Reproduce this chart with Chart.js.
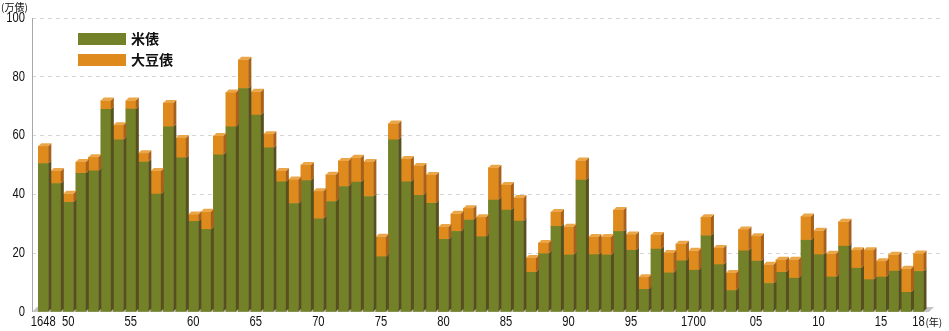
<!DOCTYPE html>
<html>
<head>
<meta charset="utf-8">
<script src="https://cdn.jsdelivr.net/npm/chart.js@4/dist/chart.umd.min.js"></script>
<style>
  html, body { margin: 0; padding: 0; background: #ffffff; }
  #wrap { position: relative; width: 949px; height: 331px; }
</style>
</head>
<body>
<div id="wrap"><canvas id="c" width="949" height="331"></canvas></div>
<script>
// ---- data ----
const years = [1648,1649,1650,1651,1652,1653,1654,1655,1656,1657,
               1658,1659,1660,1661,1662,1663,1664,1665,1666,1667,
               1668,1669,1670,1671,1672,1673,1674,1675,1676,1677,
               1678,1679,1680,1681,1682,1683,1684,1685,1686,1687,
               1688,1689,1690,1691,1692,1693,1694,1695,1696,1697,
               1698,1699,1700,1701,1702,1703,1704,1705,1706,1707,
               1708,1709,1710,1711,1712,1713,1714,1715,1716,1717,
               1718];
// 米俵 (rice bales, 万俵)
const rice = [50.5,43.7,37.3,47.2,48.0,68.9,58.6,69.0,51.0,40.1,
              63.0,52.4,30.8,28.1,53.5,63.0,76.0,67.0,55.8,44.3,
              36.9,44.7,31.7,37.6,42.7,44.2,39.3,18.8,58.6,44.3,
              39.7,37.0,24.7,27.4,31.3,25.6,38.1,34.7,30.9,13.5,
              19.8,29.1,19.4,44.9,19.5,19.4,27.4,21.0,7.7,21.4,
              13.3,17.4,14.2,25.9,16.1,7.3,20.8,17.3,9.7,13.5,
              11.5,24.4,19.5,11.9,22.4,14.9,11.0,11.9,13.9,6.7,
              13.8];
// 大豆俵 (soybean bales, 万俵)
const soy = [5.9,4.3,2.9,3.8,4.6,3.0,4.9,2.9,3.0,7.9,
             8.1,6.8,2.4,6.0,6.4,11.7,9.8,7.9,4.7,3.7,
             8.2,5.3,9.4,9.1,8.7,8.3,11.7,6.8,5.5,7.7,
             10.0,9.6,4.2,6.0,4.0,6.6,11.0,8.5,7.9,4.9,
             3.7,4.9,9.6,6.6,6.0,6.1,7.3,5.4,4.1,4.8,
             6.8,5.8,6.6,6.3,5.7,6.0,7.3,8.5,6.4,4.3,
             6.3,8.1,8.1,7.9,8.3,6.1,10.0,5.4,5.6,8.0,
             6.1];
const tickYears  = [1648,1650,1655,1660,1665,1670,1675,1680,1685,1690,1695,1700,1705,1710,1715,1718];
const tickLabels = ['1648','50','55','60','65','70','75','80','85','90','95','1700','05','10','15','18'];
const yTicks = [0,20,40,60,80,100];
const seriesNames = ['米俵','大豆俵'];
const yUnit = '(万俵)';
const xUnit = '(年)';

// ---- styles ----
const GREEN = '#738228', GREEN_SIDE = '#574f1f';
const ORANGE = '#de8a1c', ORANGE_SIDE = '#a9601a', ORANGE_TOP = '#eba648', GREEN_TOP = '#8f9c3c';
const FONT = "14px 'Liberation Sans', Arial, sans-serif";
const SQUEEZE = 0.8;
const DEPTH = 3;

function narrowText(ctx, text, x, y, align) {
  ctx.save();
  ctx.translate(x, y);
  ctx.scale(SQUEEZE, 1);
  ctx.textAlign = align;
  ctx.fillText(text, 0, 0);
  ctx.restore();
}

const threeD = {
  id: 'threeD',
  beforeDatasetsDraw(chart) {
    const ctx = chart.ctx, a = chart.chartArea;
    ctx.save();
    // floor
    ctx.fillStyle = '#c4c4c4';
    ctx.beginPath();
    ctx.moveTo(a.left, a.bottom);
    ctx.lineTo(a.left + 5, a.bottom - 5);
    ctx.lineTo(a.right - 10, a.bottom - 5);
    ctx.lineTo(a.right - 15, a.bottom);
    ctx.closePath();
    ctx.fill();
    // left axis line
    ctx.strokeStyle = '#a8a8a8';
    ctx.lineWidth = 1;
    ctx.beginPath();
    ctx.moveTo(a.left + 0.5, a.top);
    ctx.lineTo(a.left + 0.5, a.bottom);
    ctx.stroke();
    ctx.restore();
  },
  afterDatasetsDraw(chart) {
    const ctx = chart.ctx;
    const m0 = chart.getDatasetMeta(0), m1 = chart.getDatasetMeta(1);
    ctx.save();
    const n = m0.data.length;
    for (let i = 0; i < n; i++) {
      const segs = [[m0.data[i], GREEN_SIDE], [m1.data[i], ORANGE_SIDE]];
      for (const [el, col] of segs) {
        const p = el.getProps(['x','y','base','width'], true);
        const r = p.x + p.width / 2;
        const top = Math.min(p.y, p.base), bot = Math.max(p.y, p.base);
        ctx.fillStyle = col;
        ctx.beginPath();
        ctx.moveTo(r, top);
        ctx.lineTo(r + DEPTH, top - DEPTH);
        ctx.lineTo(r + DEPTH, bot - DEPTH);
        ctx.lineTo(r, bot);
        ctx.closePath();
        ctx.fill();
      }
      // top face of the stack
      const topEl = soy[i] > 0 ? m1.data[i] : m0.data[i];
      const p = topEl.getProps(['x','y','base','width'], true);
      const l = p.x - p.width / 2, r = p.x + p.width / 2;
      ctx.fillStyle = soy[i] > 0 ? ORANGE_TOP : GREEN_TOP;
      ctx.beginPath();
      ctx.moveTo(l, p.y);
      ctx.lineTo(l + DEPTH, p.y - DEPTH);
      ctx.lineTo(r + DEPTH, p.y - DEPTH);
      ctx.lineTo(r, p.y);
      ctx.closePath();
      ctx.fill();
    }
    ctx.restore();
  },
  afterDraw(chart) {
    const ctx = chart.ctx, a = chart.chartArea;
    const xs = chart.scales.x, ys = chart.scales.y;
    ctx.save();
    // tick labels (condensed face, like the reference)
    ctx.fillStyle = '#111';
    ctx.font = FONT;
    ctx.textBaseline = 'middle';
    tickYears.forEach((v, k) => narrowText(ctx, tickLabels[k], xs.getPixelForValue(v), a.bottom + 10, 'center'));
    yTicks.forEach(v => narrowText(ctx, String(v), a.left - 7, ys.getPixelForValue(v), 'right'));
    // legend
    ctx.fillStyle = GREEN;
    ctx.fillRect(78, 33, 48, 12);
    ctx.fillStyle = ORANGE;
    ctx.fillRect(78, 54, 48, 12);
    ctx.fillStyle = '#111';
    ctx.font = "bold 14px 'Noto Sans CJK JP', sans-serif";
    ctx.textAlign = 'left';
    ctx.fillText(seriesNames[0], 131, 39);
    ctx.fillText(seriesNames[1], 131, 60);
    // units
    ctx.font = "10px 'Noto Sans CJK JP', sans-serif";
    ctx.fillText(yUnit, 1, 7);
    const x18 = xs.getPixelForValue(1718);
    ctx.fillText(xUnit, x18 + 7, a.bottom + 10);
    ctx.restore();
  }
};

const chart = new Chart(document.getElementById('c'), {
  type: 'bar',
  data: {
    datasets: [
      { label: seriesNames[0], data: years.map((y, i) => ({x: y, y: rice[i]})), backgroundColor: GREEN, borderWidth: 0 },
      { label: seriesNames[1], data: years.map((y, i) => ({x: y, y: soy[i]})), backgroundColor: ORANGE, borderWidth: 0 }
    ]
  },
  options: {
    responsive: false,
    animation: false,
    events: [],
    barThickness: 10,
    layout: { padding: { left: 0, right: 5, top: 18, bottom: 0 } },
    plugins: { legend: { display: false }, tooltip: { enabled: false } },
    scales: {
      x: {
        type: 'linear',
        stacked: true,
        min: 1647.096,
        max: 1720.04,
        offset: false,
        grid: { display: false },
        border: { display: false },
        afterBuildTicks(scale) { scale.ticks = tickYears.map(v => ({ value: v })); },
        afterFit(scale) { scale.height = 19; },
        ticks: { display: false }
      },
      y: {
        stacked: true,
        min: 0,
        max: 100,
        afterBuildTicks(scale) { scale.ticks = yTicks.map(v => ({ value: v })); },
        afterFit(scale) { scale.width = 32; },
        grid: { color: (c) => c.tick.value === 0 ? 'rgba(0,0,0,0)' : '#d4d4d4', drawTicks: false, lineWidth: 1 },
        border: { display: false, dash: [4, 4] },
        ticks: { display: false }
      }
    }
  },
  plugins: [threeD]
});
</script>
</body>
</html>
